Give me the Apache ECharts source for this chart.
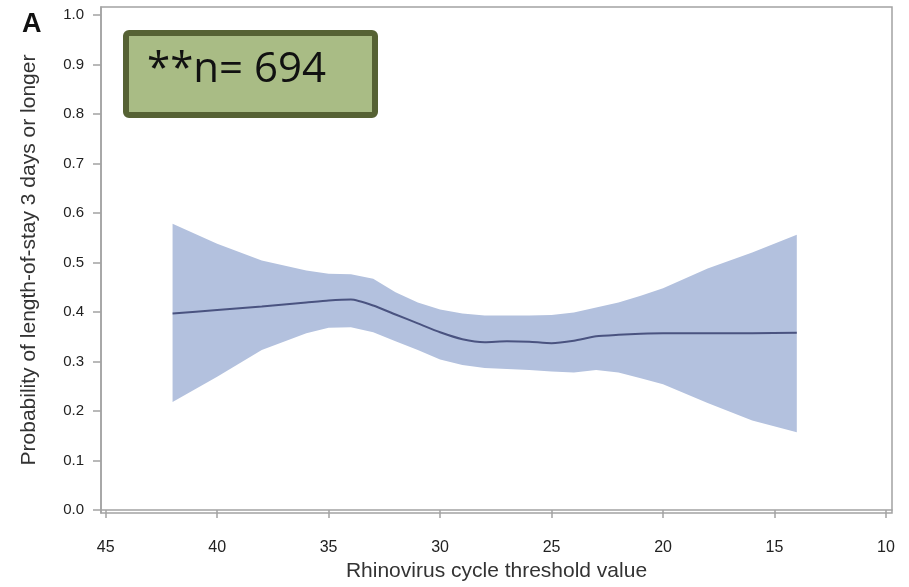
<!DOCTYPE html>
<html><head><meta charset="utf-8">
<script src="https://cdn.jsdelivr.net/npm/echarts@6/dist/echarts.min.js"></script>
<style>html,body{margin:0;padding:0;background:#fff}#c{width:909px;height:587px}</style>
</head><body><div id="c"></div>
<script>
const ctValues = [42,40,38,36,35,34,33,32,31,30,29,28,27,26,25,24,23,22,21,20,18,16,14];
const probEstimate = [0.397,0.404,0.411,0.419,0.423,0.425,0.413,0.395,0.377,0.359,0.345,0.339,0.341,0.340,0.337,0.342,0.351,0.354,0.356,0.357,0.357,0.357,0.358];
const upperCI = [0.578,0.538,0.504,0.484,0.477,0.476,0.467,0.440,0.419,0.405,0.397,0.393,0.393,0.393,0.394,0.399,0.409,0.419,0.433,0.448,0.488,0.520,0.556];
const lowerCI = [0.218,0.269,0.323,0.357,0.368,0.369,0.359,0.341,0.323,0.304,0.293,0.287,0.285,0.283,0.280,0.278,0.283,0.278,0.266,0.254,0.216,0.181,0.157];
const xTicks = [45,40,35,30,25,20,15,10];
const yTicks = [0,0.1,0.2,0.3,0.4,0.5,0.6,0.7,0.8,0.9,1.0];
const annotation = '**n= 694';
const panelLabel = 'A';

const font = '"Liberation Sans",Arial,sans-serif';
const chart = echarts.init(document.getElementById('c'));
chart.setOption({
  animation:false,
  grid:{left:101,right:17,top:7,bottom:74,show:true,borderColor:'#a3a3a3',borderWidth:1.5,backgroundColor:'#fff'},
  xAxis:{type:'value',inverse:true,min:9.73,max:45.21,
    name:'Rhinovirus cycle threshold value',nameLocation:'middle',nameGap:48,
    nameTextStyle:{fontFamily:font,fontSize:21,color:'#333'},
    axisLine:{show:true,lineStyle:{color:'#a3a3a3',width:1.5}},
    axisTick:{show:true,length:8,customValues:xTicks,lineStyle:{color:'#a3a3a3',width:1.5}},
    axisLabel:{customValues:xTicks,margin:27,fontFamily:font,fontSize:16,color:'#222'},
    splitLine:{show:false}},
  yAxis:{type:'value',min:-0.006,max:1.016,
    name:'Probability of length-of-stay 3 days or longer',nameLocation:'middle',nameGap:61,
    nameTextStyle:{fontFamily:font,fontSize:21,color:'#333'},
    axisLine:{show:true,lineStyle:{color:'#a3a3a3',width:1.5}},
    axisTick:{show:true,length:8,customValues:yTicks,lineStyle:{color:'#a3a3a3',width:1.5}},
    axisLabel:{customValues:yTicks,margin:17,fontFamily:font,fontSize:15,color:'#222',formatter:v=>v.toFixed(1)},
    splitLine:{show:false}},
  series:[
    {type:'custom',data:ctValues.map((x,i)=>[x,lowerCI[i],upperCI[i]]),z:1,
      renderItem:function(params,api){
        if(params.dataIndex!==0) return null;
        const pts=[];
        for(let i=0;i<ctValues.length;i++) pts.push(api.coord([ctValues[i],upperCI[i]]));
        for(let i=ctValues.length-1;i>=0;i--) pts.push(api.coord([ctValues[i],lowerCI[i]]));
        return {type:'polygon',shape:{points:pts},style:{fill:'#b3c1de'}};
      }},
    {type:'line',data:ctValues.map((x,i)=>[x,probEstimate[i]]),symbol:'none',smooth:0.2,lineStyle:{color:'#4a5380',width:2},z:3}
  ],
  graphic:[
    {type:'text',left:22,top:11,style:{text:panelLabel,font:'bold 27px "Liberation Sans",Arial,sans-serif',fill:'#111'}},
    {type:'rect',left:123,top:30,shape:{width:249,height:82,r:3},style:{fill:'#a9bc85',stroke:'#566234',lineWidth:6},z:10},
    {type:'text',left:147,top:49,style:{text:annotation,font:'42px "Open Sans","Noto Sans",sans-serif',fill:'#111'},z:11}
  ]
});
</script></body></html>
